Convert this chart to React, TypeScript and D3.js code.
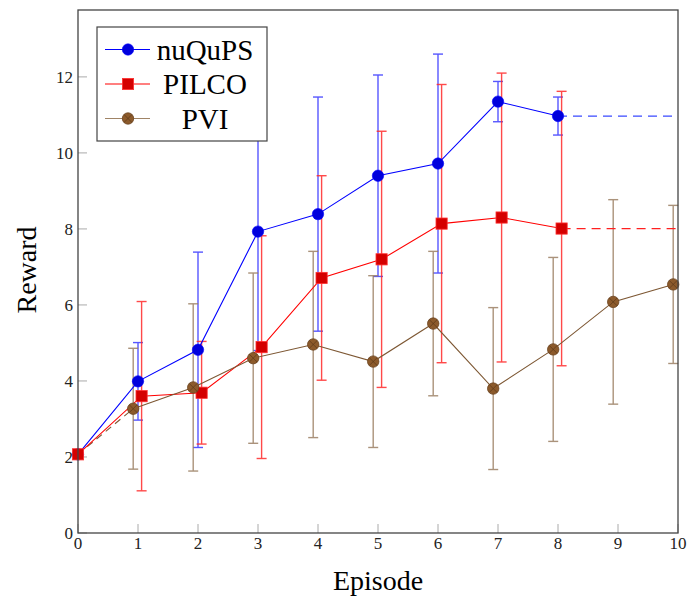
import React from "react";
import * as d3 from "d3";

const episodes = [0, 1, 2, 3, 4, 5, 6, 7, 8, 9, 10];
const xTicks = [0, 1, 2, 3, 4, 5, 6, 7, 8, 9, 10];
const yTicks = [0, 2, 4, 6, 8, 10, 12];

// nuQuPS
const nuqupsX = [0, 1, 2, 3, 4, 5, 6, 7, 8];
const nuqupsMean = [2.07, 3.99, 4.82, 7.93, 8.39, 9.4, 9.72, 11.35, 10.97];
const nuqupsStd = [0, 1.02, 2.57, 3.13, 3.08, 2.65, 2.88, 0.53, 0.5];
// PILCO
const pilcoX = [0, 1, 2, 3, 4, 5, 6, 7, 8];
const pilcoMean = [2.07, 3.6, 3.69, 4.89, 6.71, 7.2, 8.14, 8.3, 8.01];
const pilcoStd = [0, 2.49, 1.35, 2.93, 2.69, 3.37, 3.66, 3.8, 3.61];
// PVI
const pviX = [1, 2, 3, 4, 5, 6, 7, 8, 9, 10];
const pviMean = [3.27, 3.83, 4.6, 4.96, 4.51, 5.51, 3.8, 4.83, 6.08, 6.54];
const pviStd = [1.59, 2.2, 2.24, 2.45, 2.26, 1.9, 2.13, 2.42, 2.69, 2.08];
const pviStart = 2.07;

const W = 688;
const H = 599;
const L = 78;
const R = 678;
const T = 10;
const B = 533;

export default function App() {
  const x = d3.scaleLinear().domain([0, 10]).range([L, R]);
  const y = d3.scaleLinear().domain([0, 13.76]).range([B, T]);
  const line = d3
    .line<[number, number]>()
    .x((d) => x(d[0]))
    .y((d) => y(d[1]));

  const series = [
    {
      name: "nuQuPS",
      xs: nuqupsX,
      mean: nuqupsMean,
      std: nuqupsStd,
      off: 0,
      line: "#0000ff",
      fill: "#0000dd",
      mark: "circle",
    },
    {
      name: "PILCO",
      xs: pilcoX,
      mean: pilcoMean,
      std: pilcoStd,
      off: 0.06,
      line: "#ff0000",
      fill: "#d40000",
      mark: "square",
    },
    {
      name: "PVI",
      xs: pviX,
      mean: pviMean,
      std: pviStd,
      off: -0.08,
      line: "#7d5733",
      fill: "#8c5a2b",
      mark: "otimes",
    },
  ];

  const drawMark = (s: any, cx: number, cy: number, key: string) => {
    if (s.mark === "circle")
      return <circle key={key} cx={cx} cy={cy} r={5.7} fill={s.fill} stroke="#0000ff" strokeWidth={0.6} />;
    if (s.mark === "square")
      return (
        <rect key={key} x={cx - 5.6} y={cy - 5.6} width={11.2} height={11.2} fill={s.fill} stroke="#ff3030" strokeWidth={0.8} />
      );
    const r = 5.7;
    const k = r * 0.7;
    return (
      <g key={key}>
        <circle cx={cx} cy={cy} r={r} fill={s.fill} stroke="#6a431f" strokeWidth={0.8} />
        <line x1={cx - k} y1={cy - k} x2={cx + k} y2={cy + k} stroke="#5a3818" strokeWidth={0.7} />
        <line x1={cx - k} y1={cy + k} x2={cx + k} y2={cy - k} stroke="#5a3818" strokeWidth={0.7} />
      </g>
    );
  };

  const errColor: Record<string, string> = {
    nuQuPS: "#3a3aff",
    PILCO: "#ff2a2a",
    PVI: "#9c8064",
  };

  const lastN = nuqupsMean[nuqupsMean.length - 1];
  const lastP = pilcoMean[pilcoMean.length - 1];
  const lastNX = nuqupsX[nuqupsX.length - 1];
  const lastPX = pilcoX[pilcoX.length - 1];

  return (
    <svg width={W} height={H} style={{ position: "absolute", left: 0, top: 0, background: "#fff" }}>
      <rect x={0} y={0} width={W} height={H} fill="#fff" />
      {/* ticks */}
      {xTicks.map((t) => (
        <line key={"xt" + t} x1={x(t)} x2={x(t)} y1={B} y2={B - 9} stroke="#aaa" strokeWidth={1} />
      ))}
      {yTicks.map((t) => (
        <line key={"yt" + t} x1={L} x2={L + 9} y1={y(t)} y2={y(t)} stroke="#aaa" strokeWidth={1} />
      ))}
      {/* error bars */}
      {series.map((s) => (
        <g key={s.name}>
          {s.xs.map((xv, i) =>
            s.std[i] > 0 ? (
              <g key={"e" + i} stroke={errColor[s.name]} strokeWidth={1.4} opacity={0.85}>
                <line x1={x(xv + s.off)} x2={x(xv + s.off)} y1={y(s.mean[i] - s.std[i])} y2={y(s.mean[i] + s.std[i])} />
                <line x1={x(xv + s.off) - 5} x2={x(xv + s.off) + 5} y1={y(s.mean[i] - s.std[i])} y2={y(s.mean[i] - s.std[i])} />
                <line x1={x(xv + s.off) - 5} x2={x(xv + s.off) + 5} y1={y(s.mean[i] + s.std[i])} y2={y(s.mean[i] + s.std[i])} />
              </g>
            ) : null
          )}
        </g>
      ))}
      {/* dashed extensions */}
      <path
        d={line([[lastNX, lastN], [10, lastN]]) || ""}
        fill="none"
        stroke="#3a4aff"
        strokeWidth={1.3}
        strokeDasharray="9 6"
      />
      <path
        d={line([[lastPX + 0.06, lastP], [10, lastP]]) || ""}
        fill="none"
        stroke="#ff2020"
        strokeWidth={1.3}
        strokeDasharray="9 6"
      />
      {/* PVI dashed start */}
      <path
        d={line([[0, pviStart], [pviX[0] - 0.08, pviMean[0]]]) || ""}
        fill="none"
        stroke="#7d5733"
        strokeWidth={1.1}
        strokeDasharray="7 5"
      />
      {series.map((s) => (
        <g key={"l" + s.name}>
          <path
            d={line(s.xs.map((xv, i) => [xv + (i === 0 && xv === 0 ? 0 : s.off), s.mean[i]] as [number, number])) || ""}
            fill="none"
            stroke={s.line}
            strokeWidth={1.1}
          />
          {s.xs.map((xv, i) =>
            drawMark(s, x(xv + (i === 0 && xv === 0 ? 0 : s.off)), y(s.mean[i]), s.name + i)
          )}
        </g>
      ))}
      {/* frame */}
      <rect x={L} y={T} width={R - L} height={B - T} fill="none" stroke="#444" strokeWidth={1.3} />
      {/* tick labels */}
      {xTicks.map((t) => (
        <text
          key={"xl" + t}
          x={x(t)}
          y={549}
          textAnchor="middle"
          fontFamily="Liberation Serif, serif"
          fontSize={17}
          fill="#222"
        >
          {t}
        </text>
      ))}
      {yTicks.map((t) => (
        <text
          key={"yl" + t}
          x={73}
          y={y(t) + 6}
          textAnchor="end"
          fontFamily="Liberation Serif, serif"
          fontSize={17}
          fill="#222"
        >
          {t}
        </text>
      ))}
      {/* axis labels */}
      <text x={378} y={590} textAnchor="middle" fontFamily="Liberation Serif, serif" fontSize={28} fill="#000">
        Episode
      </text>
      <text
        transform="translate(36,270) rotate(-90)"
        textAnchor="middle"
        fontFamily="Liberation Serif, serif"
        fontSize={28}
        fill="#000"
      >
        Reward
      </text>
      {/* legend */}
      <rect x={97} y={27} width={170} height={114} fill="#fff" stroke="#444" strokeWidth={1.2} />
      {series.map((s, i) => {
        const cy = 49.5 + i * 34.5;
        return (
          <g key={"lg" + s.name}>
            <line x1={105} x2={150} y1={cy} y2={cy} stroke={s.name === "PVI" ? "#a08466" : s.line} strokeWidth={1.2} />
            {drawMark(s, 128, cy, "lgm" + i)}
            <text
              x={205}
              y={cy + 10}
              textAnchor="middle"
              fontFamily="Liberation Serif, serif"
              fontSize={29}
              fill="#000"
            >
              {s.name}
            </text>
          </g>
        );
      })}
    </svg>
  );
}
